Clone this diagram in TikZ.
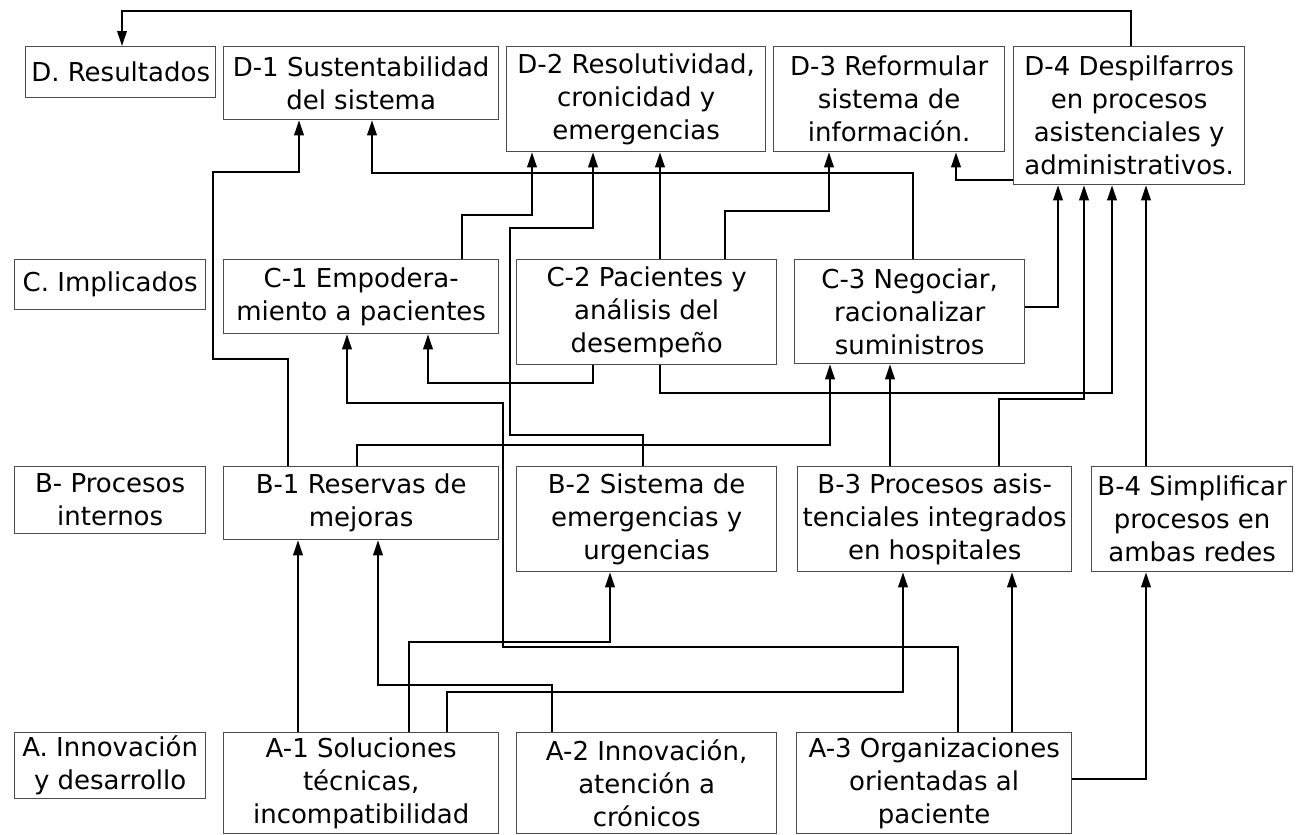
\documentclass[tikz,border=0pt]{standalone}
\usepackage{fontspec}
\setmainfont{DejaVu Sans}
\usetikzlibrary{arrows.meta}
\begin{document}
\begin{tikzpicture}[x=1pt,y=-1pt,
  box/.style={draw=black!70,line width=1.3pt,inner sep=0pt,anchor=north west,align=center,
    font={\fontsize{26}{33}\selectfont}},
  conn/.style={line width=2pt,-{Triangle[length=15pt,width=9.5pt]}}]
\fill[white] (0,0) rectangle (1302,835);
\useasboundingbox (0,0) rectangle (1302,835);

% D row
\node[box,minimum width=190,minimum height=51] (D0) at (25,46) {D. Resultados};
\node[box,minimum width=275,minimum height=73] (D1) at (223,46) {D-1 Sustentabilidad\\del sistema};
\node[box,minimum width=259,minimum height=105] (D2) at (506,46) {D-2 Resolutividad,\\cronicidad y\\emergencias};
\node[box,minimum width=231,minimum height=105] (D3) at (773,46) {D-3 Reformular\\sistema de\\información.};
\node[box,minimum width=231,minimum height=138] (D4) at (1013,46) {D-4 Despilfarros\\en procesos\\asistenciales y\\administrativos.};
% C row
\node[box,minimum width=191,minimum height=50] (C0) at (14,259) {C. Implicados};
\node[box,minimum width=275,minimum height=74] (C1) at (223,259) {C-1 Empodera-\\miento a pacientes};
\node[box,minimum width=260,minimum height=105] (C2) at (516,259) {C-2 Pacientes y\\análisis del\\desempeño};
\node[box,minimum width=230,minimum height=104] (C3) at (794,259) {C-3 Negociar,\\racionalizar\\suministros};
% B row
\node[box,minimum width=191,minimum height=67] (B0) at (14,466) {B- Procesos\\internos};
\node[box,minimum width=275,minimum height=73] (B1) at (223,466) {B-1 Reservas de\\mejoras};
\node[box,minimum width=260,minimum height=105] (B2) at (516,466) {B-2 Sistema de\\emergencias y\\urgencias};
\node[box,minimum width=274,minimum height=105] (B3) at (797,466) {B-3 Procesos asis-\\tenciales integrados\\en hospitales};
\node[box,minimum width=201,minimum height=105] (B4) at (1091,466) {B-4 Simplificar\\procesos en\\ambas redes};
% A row
\node[box,minimum width=191,minimum height=66] (A0) at (14,732) {A. Innovación\\y desarrollo};
\node[box,minimum width=275,minimum height=101] (A1) at (223,732) {A-1 Soluciones\\técnicas,\\incompatibilidad};
\node[box,minimum width=260,minimum height=101] (A2) at (516,732) {A-2 Innovación,\\atención a\\crónicos};
\node[box,minimum width=275,minimum height=101] (A3) at (796,732) {A-3 Organizaciones\\orientadas al\\paciente};

% connectors
\draw[conn] (D4.north -| 1131,0) |- (122,11) -- (D0.north -| 122,0);
\draw[conn] (D4.west |- 0,180) -| (D3.south -| 956,0);
\draw[conn] (B1.north -| 288,0) |- (213,359) |- (299,172) -- (D1.south -| 299,0);
\draw[conn] (C3.north -| 913,0) |- (372,173) -- (D1.south -| 372,0);
\draw[conn] (C1.north -| 462,0) |- (532,215) -- (D2.south -| 532,0);
\draw[conn] (B2.north -| 643,0) |- (510,435) |- (593,228) -- (D2.south -| 593,0);
\draw[conn] (C2.north -| 660,0) -- (D2.south -| 660,0);
\draw[conn] (C2.north -| 725,0) |- (829,211) -- (D3.south -| 829,0);
\draw[conn] (C2.south -| 593,0) |- (428,383) -- (C1.south -| 428,0);
\draw[conn] (C2.south -| 660,0) |- (1112,393) -- (D4.south -| 1112,0);
\draw[conn] (A3.north -| 958,0) |- (503,647) |- (347,403) -- (C1.south -| 347,0);
\draw[conn] (C3.east |- 0,307) -| (D4.south -| 1058,0);
\draw[conn] (B3.north -| 999,0) |- (1084,399) -- (D4.south -| 1084,0);
\draw[conn] (B3.north -| 890,0) -- (C3.south -| 890,0);
\draw[conn] (B4.north -| 1146,0) -- (D4.south -| 1146,0);
\draw[conn] (B1.north -| 357,0) |- (830,445) -- (C3.south -| 830,0);
\draw[conn] (A1.north -| 298,0) -- (B1.south -| 298,0);
\draw[conn] (A2.north -| 552,0) |- (378,685) -- (B1.south -| 378,0);
\draw[conn] (A1.north -| 409,0) |- (610,642) -- (B2.south -| 610,0);
\draw[conn] (A1.north -| 447,0) |- (903,692) -- (B3.south -| 903,0);
\draw[conn] (A3.north -| 1012,0) -- (B3.south -| 1012,0);
\draw[conn] (A3.east |- 0,779) -| (B4.south -| 1146,0);
\end{tikzpicture}
\end{document}
